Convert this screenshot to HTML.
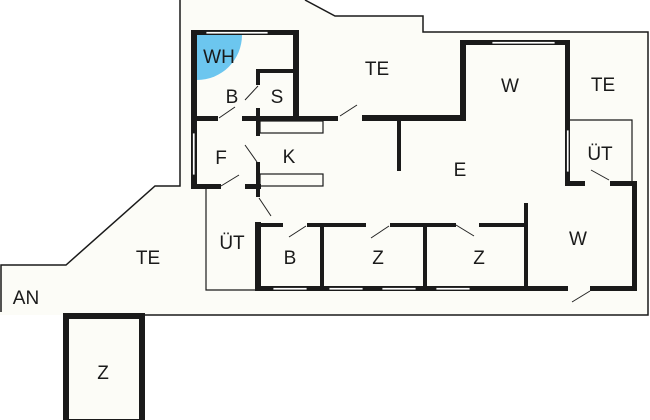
<!DOCTYPE html>
<html><head><meta charset="utf-8"><style>
html,body{margin:0;padding:0;background:#fff;}
svg{display:block;}
text{font-family:"Liberation Sans",sans-serif;font-size:19px;fill:#1a1a1a;text-anchor:middle;}
</style></head><body>
<svg width="650" height="420" viewBox="0 0 650 420" xmlns="http://www.w3.org/2000/svg">
<rect width="650" height="420" fill="#fff"/>
<polygon points="0,265 66,265 155,186 180,186 180,0 305,0 335,16 423,16 423,32 648,32 648,315 0,315" fill="#fcfcf7" stroke="none"/>
<polyline points="1,312 1,265 66,265 155,186 180,186 180,0" fill="none" stroke="#1a1a1a" stroke-width="1.5"/>
<polyline points="305,0 335,16 423,16 423,32 648,32 648,315 145,315" fill="none" stroke="#1a1a1a" stroke-width="1.5"/>
<rect x="66" y="316" width="76" height="106" fill="#fcfcf7" stroke="#1a1a1a" stroke-width="6"/>
<path d="M197,35 L242,35 A45,45 0 0 1 197,80 Z" fill="#6cc6ef"/>
<g fill="#1a1a1a">
<rect x="191" y="30" width="6" height="157"/>
<rect x="191" y="30" width="107" height="5"/>
<rect x="293" y="30" width="6" height="91"/>
<rect x="191" y="116" width="27" height="5"/>
<rect x="242" y="116" width="96" height="5"/>
<rect x="362" y="115" width="104" height="6"/>
<rect x="460" y="40" width="6" height="81"/>
<rect x="460" y="40" width="110" height="5"/>
<rect x="565" y="40" width="5" height="146"/>
<rect x="565" y="181" width="20" height="5"/>
<rect x="610" y="181" width="27" height="5"/>
<rect x="632" y="181" width="5" height="110"/>
<rect x="257" y="69" width="40" height="4"/>
<rect x="256" y="69" width="4" height="16"/>
<rect x="256" y="108" width="4" height="28"/>
<rect x="256" y="162" width="4" height="35"/>
<rect x="191" y="184" width="30" height="5"/>
<rect x="245" y="184" width="16" height="5"/>
<rect x="397" y="118" width="4" height="53"/>
<rect x="255" y="222" width="6" height="69"/>
<rect x="257" y="223" width="26" height="4"/>
<rect x="307" y="223" width="59" height="4"/>
<rect x="390" y="223" width="66" height="4"/>
<rect x="479" y="223" width="49" height="4"/>
<rect x="320" y="223" width="4" height="66"/>
<rect x="423" y="223" width="4" height="66"/>
<rect x="524" y="203" width="4" height="88"/>
<rect x="255" y="286" width="313" height="5"/>
<rect x="590" y="286" width="47" height="5"/>
</g>
<g fill="#fff" stroke="#1a1a1a" stroke-width="0.8">
<rect x="206" y="31.5" width="62" height="2.5"/>
<rect x="492" y="41.5" width="63" height="2.5"/>
<rect x="566.5" y="130" width="2.5" height="42"/>
<rect x="192.5" y="133" width="2.5" height="42"/>
<rect x="273" y="287.5" width="34" height="2.5"/>
<rect x="329" y="287.5" width="34" height="2.5"/>
<rect x="382" y="287.5" width="34" height="2.5"/>
<rect x="436" y="287.5" width="34" height="2.5"/>
</g>
<g fill="none" stroke="#1a1a1a" stroke-width="1.2">
<rect x="260" y="121" width="63" height="12"/>
<rect x="260" y="174" width="63" height="12"/>
<polyline points="206,189 206,290 257,290"/>
<polyline points="570,120 632,120 632,182"/>
</g>
<g stroke="#222" stroke-width="1">
<line x1="219" y1="118" x2="235" y2="107"/>
<line x1="245" y1="100" x2="258" y2="86"/>
<line x1="340" y1="116" x2="357" y2="105"/>
<line x1="245" y1="145" x2="257" y2="162"/>
<line x1="221" y1="186" x2="239" y2="175"/>
<line x1="259" y1="198" x2="271" y2="216"/>
<line x1="289" y1="237" x2="306" y2="226"/>
<line x1="371" y1="238" x2="389" y2="226"/>
<line x1="456" y1="225" x2="474" y2="236"/>
<line x1="591" y1="170" x2="609" y2="180"/>
<line x1="572" y1="302" x2="590" y2="291"/>
</g>
<text x="219" y="63">WH</text>
<text x="377" y="75">TE</text>
<text x="232" y="103">B</text>
<text x="277" y="103">S</text>
<text x="221" y="164">F</text>
<text x="289" y="163">K</text>
<text x="460" y="176">E</text>
<text x="510" y="92">W</text>
<text x="603" y="91">TE</text>
<text x="600" y="160">ÜT</text>
<text x="578" y="245">W</text>
<text x="232" y="249">ÜT</text>
<text x="290" y="264">B</text>
<text x="378" y="264">Z</text>
<text x="479" y="264">Z</text>
<text x="148" y="264">TE</text>
<text x="26" y="304">AN</text>
<text x="103" y="379">Z</text>
</svg>
</body></html>
